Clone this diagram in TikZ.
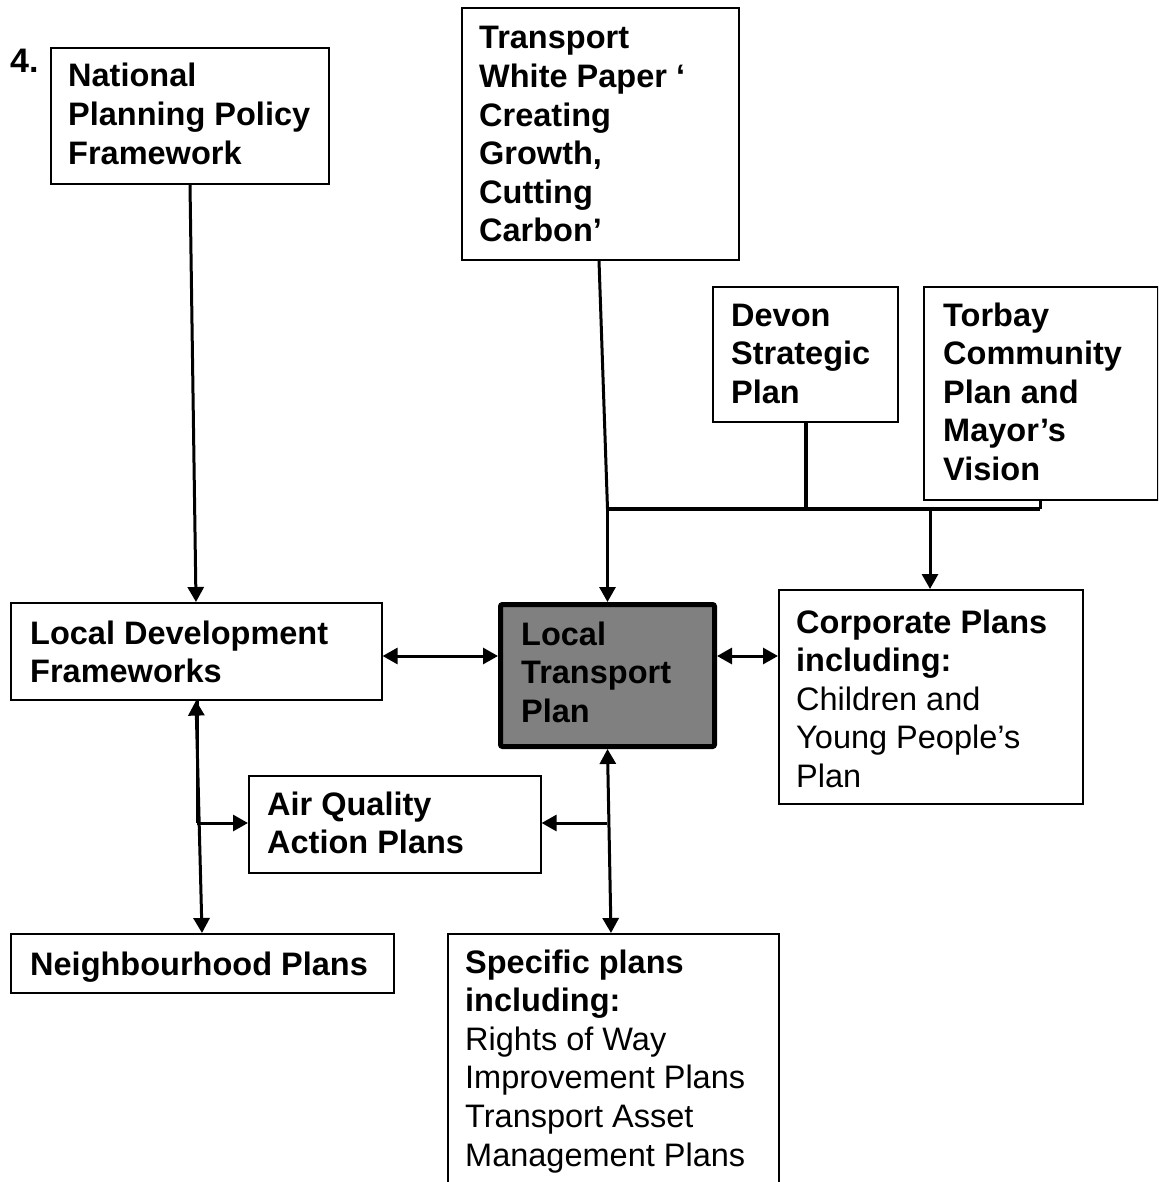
\documentclass[tikz,border=0pt]{standalone}
\usepackage{fontspec}
\setmainfont{Liberation Sans}
\usetikzlibrary{arrows.meta}
\begin{document}
\begin{tikzpicture}[x=1pt,y=-1pt,
  box/.style={draw, line width=1.6pt, inner sep=0pt, anchor=north west, fill=white},
  mainbox/.style={draw, line width=5pt, inner sep=0pt, anchor=north west, fill=black!50, rounded corners=2pt},
  txt/.style={anchor=base west, align=left, inner sep=0pt, font=\fontsize{32.5}{38.6}\selectfont\bfseries},
  conn/.style={line width=3pt, -{Triangle[length=15pt,width=16pt]}},
  dbl/.style={line width=3pt, {Triangle[length=15pt,width=16pt]}-{Triangle[length=15pt,width=16pt]}},
  busline/.style={line width=4pt},
]
\clip (0,0) rectangle (1158,1182);
\fill[white] (0,0) rectangle (1158,1182);

% boxes
\node[box, minimum width=278pt, minimum height=136pt] (nppf) at (50,47) {};
\node[box, minimum width=277pt, minimum height=252pt] (twp) at (461,7) {};
\node[box, minimum width=185pt, minimum height=135pt] (devon) at (712,286) {};
\node[box, minimum width=234pt, minimum height=213pt] (torbay) at (923,286) {};
\node[box, minimum width=371pt, minimum height=97pt] (ldf) at (10,602) {};
\node[mainbox, minimum width=214pt, minimum height=142pt] (ltp) at (498,602) {};
\node[box, minimum width=304pt, minimum height=214pt] (corp) at (778,589) {};
\node[box, minimum width=292pt, minimum height=97pt] (aq) at (248,775) {};
\node[box, minimum width=383pt, minimum height=59pt] (nbh) at (10,933) {};
\node[box, minimum width=331pt, minimum height=300pt] (spec) at (447,933) {};

% texts (anchored at the baseline of their last line)
\node[txt, font=\fontsize{34}{40}\selectfont\bfseries] (num) at (10,73) {4.};
\node[txt] (nppf-t) at (68,164.2) {National\\Planning Policy\\Framework};
\node[txt] (twp-t) at (479,242) {Transport\\White Paper ‘\\Creating\\Growth,\\Cutting\\Carbon’};
\node[txt] (devon-t) at (731,403.2) {Devon\\Strategic\\Plan};
\node[txt] (torbay-t) at (943,480.4) {Torbay\\Community\\Plan and\\Mayor’s\\Vision};
\node[txt] (ldf-t) at (30,682.6) {Local Development\\Frameworks};
\node[txt] (ltp-t) at (521,722.2) {Local\\Transport\\Plan};
\node[txt] (corp-t) at (796,787.4) {Corporate Plans\\including:\\\mdseries Children and\\\mdseries Young People’s\\\mdseries Plan};
\node[txt] (aq-t) at (267,853.6) {Air Quality\\Action Plans};
\node[txt] (nbh-t) at (30,975) {Neighbourhood Plans};
\node[txt] (spec-t) at (465,1166) {Specific plans\\including:\\\mdseries Rights of Way\\\mdseries Improvement Plans\\\mdseries Transport Asset\\\mdseries Management Plans};

% helper coordinates
\coordinate (rowA) at (0,656);
\coordinate (bus) at (0,509);
\coordinate (bL) at (197,823);
\coordinate (bR) at (607,823);

% connectors
\draw[conn] ([xshift=140pt]nppf.south west) -- ([xshift=186pt]ldf.north west);
\draw[dbl] (ldf.east |- rowA) -- (ltp.west |- rowA);
\draw[dbl] (ltp.east |- rowA) -- (corp.west |- rowA);

\draw[busline] ([xshift=94pt]devon.south west) -- ([xshift=94pt]devon.south west |- bus);
\draw[line width=3pt] ([xshift=117pt]torbay.south west) -- ([xshift=117pt]torbay.south west |- bus);
\draw[busline] (ltp.north |- bus) -- ([xshift=117pt]torbay.south west |- bus);
\draw[line width=3pt] ([xshift=138pt]twp.south west) -- (ltp.north |- bus);
\draw[conn] (ltp.north |- bus) -- (ltp.north);
\draw[conn] ([xshift=152pt]corp.north west |- bus) -- ([xshift=152pt]corp.north west);

\draw[dbl] (ltp.south) -- ([xshift=164pt]spec.north west);
\draw[conn] (bR) -- (aq.east |- bR);

\draw[dbl] ([xshift=186pt]ldf.south west) -- ([xshift=192pt]nbh.north west);
\draw[line width=3pt] ([xshift=187pt]ldf.south west) -- (bL);
\draw[conn] (bL) -- (aq.west |- bL);
\end{tikzpicture}
\end{document}
